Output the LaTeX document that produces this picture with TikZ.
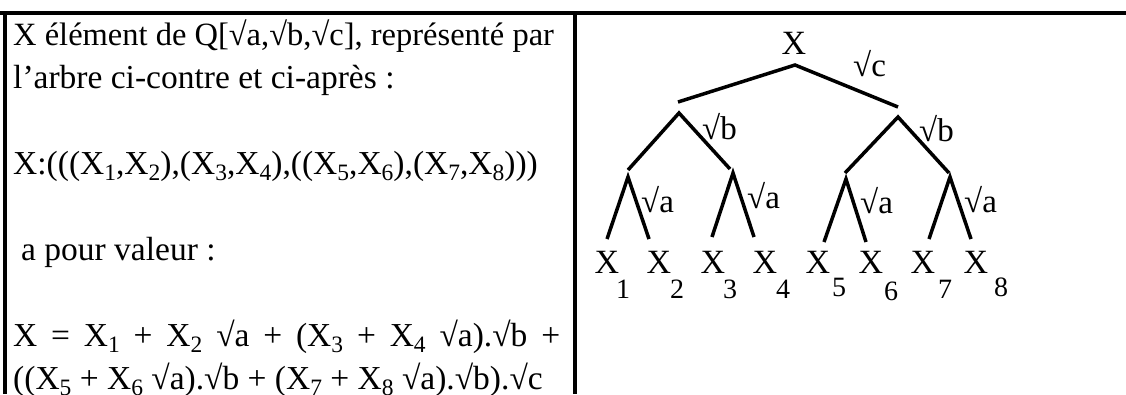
\documentclass[tikz,border=0pt]{standalone}
\usepackage{fontspec}
\setmainfont{Liberation Serif}
\newcommand\ix[1]{\raisebox{-0.2em}{\fontsize{23.5}{24}\selectfont #1}}
\tikzset{
  txt/.style={anchor=base west, inner sep=0pt, font=\fontsize{33.5}{38}\selectfont},
  rule/.style={line width=4pt},
  branch/.style={line width=3.5pt},
  lbl/.style={anchor=base west, inner sep=0pt, font=\fontsize{33}{36}\selectfont},
  leaf/.style={anchor=base, inner sep=0pt, font=\fontsize{34}{36}\selectfont},
  idx/.style={anchor=base, inner sep=0pt, font=\fontsize{28}{30}\selectfont},
}
\begin{document}
\begin{tikzpicture}[x=1pt,y=-1pt]
\useasboundingbox (0,0) rectangle (1126,394);
% table rules
\coordinate (tl) at (0,13);
\coordinate (tr) at (1126,13);
\coordinate (lt) at (5,11);
\coordinate (lb) at (5,394);
\coordinate (mt) at (575,11);
\coordinate (mb) at (575,394);
\draw[rule] (tl) -- (tr);
\draw[rule] (lt) -- (lb);
\draw[rule] (mt) -- (mb);
% left column text
\node[txt, font=\fontsize{32.5}{38}\selectfont] (l1) at (13,45) {X élément de Q[√a,√b,√c], représenté par};
\node[txt] (l2) at (13,88) {l'arbre ci-contre et ci-après :};
\node[txt] (l3) at (13,174) {X:(((X\ix{1},X\ix{2}),(X\ix{3},X\ix{4}),((X\ix{5},X\ix{6}),(X\ix{7},X\ix{8})))};
\node[txt] (l4) at (21,260) {a pour valeur :};
\node[txt] (l5) at (13,346) {\makebox[547pt][s]{X = X\ix{1} + X\ix{2} √a + (X\ix{3} + X\ix{4} √a).√b +}};
\node[txt] (l6) at (13,389) {((X\ix{5} + X\ix{6} √a).√b + (X\ix{7} + X\ix{8} √a).√b).√c};
% tree
\node[leaf] (root) at (794,54) {X};
\coordinate (r) at (795,65);
\coordinate (rl) at (678,102);
\coordinate (rr) at (898,107);
\draw[branch] (rl) -- (r) -- (rr);
\node[lbl] (sc) at (853,76) {√c};
\coordinate (bl) at (679,113);
\coordinate (bll) at (628,170);
\coordinate (blr) at (730,169);
\draw[branch] (bll) -- (bl) -- (blr);
\node[lbl] (sbl) at (702,139) {√b};
\coordinate (br) at (898,117);
\coordinate (brl) at (845,173);
\coordinate (brr) at (949,173);
\draw[branch] (brl) -- (br) -- (brr);
\node[lbl] (sbr) at (919,141) {√b};
% level 3
\coordinate (a1) at (628,177); \coordinate (a1l) at (607,239); \coordinate (a1r) at (649,239);
\coordinate (a2) at (733,173); \coordinate (a2l) at (712,237); \coordinate (a2r) at (754,237);
\coordinate (a3) at (846,179); \coordinate (a3l) at (824,242); \coordinate (a3r) at (866,242);
\coordinate (a4) at (950,177); \coordinate (a4l) at (929,239); \coordinate (a4r) at (971,239);
\draw[branch] (a1l) -- (a1) -- (a1r);
\draw[branch] (a2l) -- (a2) -- (a2r);
\draw[branch] (a3l) -- (a3) -- (a3r);
\draw[branch] (a4l) -- (a4) -- (a4r);
\node[lbl] (sa1) at (641,212) {√a};
\node[lbl] (sa2) at (747,208) {√a};
\node[lbl] (sa3) at (860,213) {√a};
\node[lbl] (sa4) at (964,212) {√a};
% leaves
\node[leaf] (x1) at (607,273) {X};
\node[leaf] (x2) at (659,273) {X};
\node[leaf] (x3) at (713,273) {X};
\node[leaf] (x4) at (765,273) {X};
\node[leaf] (x5) at (818,273) {X};
\node[leaf] (x6) at (871,273) {X};
\node[leaf] (x7) at (923,273) {X};
\node[leaf] (x8) at (976,273) {X};
\node[idx] (i1) at (623,298) {1};
\node[idx] (i2) at (677,298) {2};
\node[idx] (i3) at (730,298) {3};
\node[idx] (i4) at (783,298) {4};
\node[idx] (i5) at (839,296) {5};
\node[idx] (i6) at (891,300) {6};
\node[idx] (i7) at (945,298) {7};
\node[idx] (i8) at (1001,296) {8};
\end{tikzpicture}
\end{document}
